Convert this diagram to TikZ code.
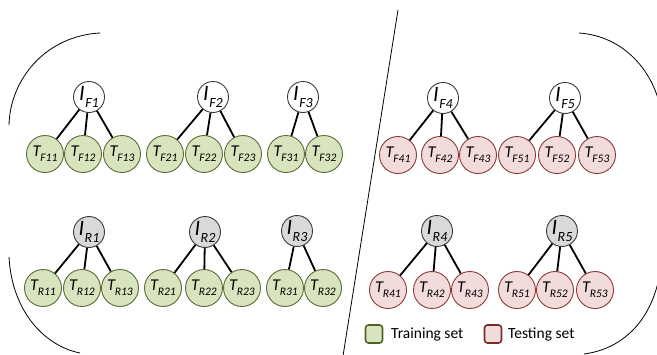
\documentclass[tikz,border=0pt]{standalone}
\usepackage{fontspec}
\setmainfont{Carlito}
\definecolor{gfill}{HTML}{D7E4BD}
\definecolor{gdraw}{HTML}{5B6B3A}
\definecolor{gbox}{HTML}{4F6228}
\definecolor{pfill}{HTML}{F2DCDB}
\definecolor{pdraw}{HTML}{8C3A38}
\definecolor{pbox}{HTML}{7A2A28}
\definecolor{ifill}{HTML}{D9D9D9}
\definecolor{idraw}{HTML}{3A3A3A}
\newcommand{\Tlab}[1]{{\fontsize{16.5}{16.5}\selectfont\itshape T\kern-0.3pt\raisebox{-0.32em}{\fontsize{11.5}{11.5}\selectfont #1}}}
\newcommand{\Ilab}[1]{{\fontsize{22}{22}\selectfont\itshape I\kern0.5pt\raisebox{-0.3em}{\fontsize{14}{14}\selectfont #1}}}
\tikzset{
  tg/.style={circle, draw=gdraw, fill=gfill, line width=0.9pt, minimum size=37pt, inner sep=0pt},
  tp/.style={circle, draw=pdraw, fill=pfill, line width=0.9pt, minimum size=37pt, inner sep=0pt},
  iw/.style={circle, draw=idraw, fill=white, line width=0.9pt, minimum size=31pt, inner sep=0pt},
  ig/.style={circle, draw=idraw, fill=ifill, line width=0.9pt, minimum size=31pt, inner sep=0pt},
  edge/.style={line width=1.8pt, black},
  bracket/.style={line width=0.8pt, black},
  legbox/.style={rounded corners=3pt, line width=1.6pt, minimum width=17pt, minimum height=18pt, inner sep=0pt},
  legtext/.style={anchor=west, font=\fontsize{15.5}{15.5}\selectfont, inner sep=0pt}
}
\begin{document}
\begin{tikzpicture}[x=1pt,y=-1pt]
\useasboundingbox (0,0) rectangle (657,354);
% brackets
\draw[bracket] (100,33) .. controls (45,36) and (10,80) .. (9,125);
\draw[bracket] (9,257) .. controls (12,312) and (45,346) .. (80,353);
\draw[bracket] (579,33) .. controls (622,36) and (650,68) .. (659,102);
\draw[bracket] (659,278) .. controls (650,322) and (622,349) .. (584,354);
% divider
\coordinate (d1) at (398,10);
\coordinate (d2) at (343,356);
\draw[bracket] (d1) -- (d2);

% ---- top row ----
\node[iw] (IF1) at (89,97) {\Ilab{F1}};
\node[tg] (TF11) at (45,154) {\Tlab{F11}};
\node[tg] (TF12) at (83,154) {\Tlab{F12}};
\node[tg] (TF13) at (122,154) {\Tlab{F13}};
\node[iw] (IF2) at (213,97) {\Ilab{F2}};
\node[tg] (TF21) at (165,154) {\Tlab{F21}};
\node[tg] (TF22) at (204,154) {\Tlab{F22}};
\node[tg] (TF23) at (243,154) {\Tlab{F23}};
\node[iw] (IF3) at (303,97) {\Ilab{F3}};
\node[tg] (TF31) at (286,154) {\Tlab{F31}};
\node[tg] (TF32) at (324,154) {\Tlab{F32}};
\node[iw] (IF4) at (443,98) {\Ilab{F4}};
\node[tp] (TF41) at (398,155) {\Tlab{F41}};
\node[tp] (TF42) at (440,155) {\Tlab{F42}};
\node[tp] (TF43) at (478,155) {\Tlab{F43}};
\node[iw] (IF5) at (565,98) {\Ilab{F5}};
\node[tp] (TF51) at (517,155) {\Tlab{F51}};
\node[tp] (TF52) at (557,155) {\Tlab{F52}};
\node[tp] (TF53) at (597,155) {\Tlab{F53}};

% ---- bottom row ----
\node[ig] (IR1) at (89,232) {\Ilab{R1}};
\node[tg] (TR11) at (43,288) {\Tlab{R11}};
\node[tg] (TR12) at (82,288) {\Tlab{R12}};
\node[tg] (TR13) at (120,288) {\Tlab{R13}};
\node[ig] (IR2) at (205,232) {\Ilab{R2}};
\node[tg] (TR21) at (163,288) {\Tlab{R21}};
\node[tg] (TR22) at (204,288) {\Tlab{R22}};
\node[tg] (TR23) at (242,288) {\Tlab{R23}};
\node[ig] (IR3) at (297,231) {\Ilab{R3}};
\node[tg] (TR31) at (285,288) {\Tlab{R31}};
\node[tg] (TR32) at (323,288) {\Tlab{R32}};
\node[ig] (IR4) at (437,231) {\Ilab{R4}};
\node[tp] (TR41) at (388,290) {\Tlab{R41}};
\node[tp] (TR42) at (432,290) {\Tlab{R42}};
\node[tp] (TR43) at (470,290) {\Tlab{R43}};
\node[ig] (IR5) at (562,231) {\Ilab{R5}};
\node[tp] (TR51) at (517,290) {\Tlab{R51}};
\node[tp] (TR52) at (555,290) {\Tlab{R52}};
\node[tp] (TR53) at (595,290) {\Tlab{R53}};

% edges
\foreach \p/\cs in {IF1/{TF11,TF12,TF13}, IF2/{TF21,TF22,TF23}, IF3/{TF31,TF32},
                    IF4/{TF41,TF42,TF43}, IF5/{TF51,TF52,TF53},
                    IR1/{TR11,TR12,TR13}, IR2/{TR21,TR22,TR23}, IR3/{TR31,TR32},
                    IR4/{TR41,TR42,TR43}, IR5/{TR51,TR52,TR53}}
  \foreach \c in \cs \draw[edge] (\p) -- (\c);

% legend
\node[legbox, draw=gbox, fill=gfill] (lg) at (374,334) {};
\node[legtext] (lgt) at (391,334) {Training set};
\node[legbox, draw=pbox, fill=pfill] (lp) at (493,334) {};
\node[legtext] (lpt) at (508,334) {Testing set};
\end{tikzpicture}
\end{document}
